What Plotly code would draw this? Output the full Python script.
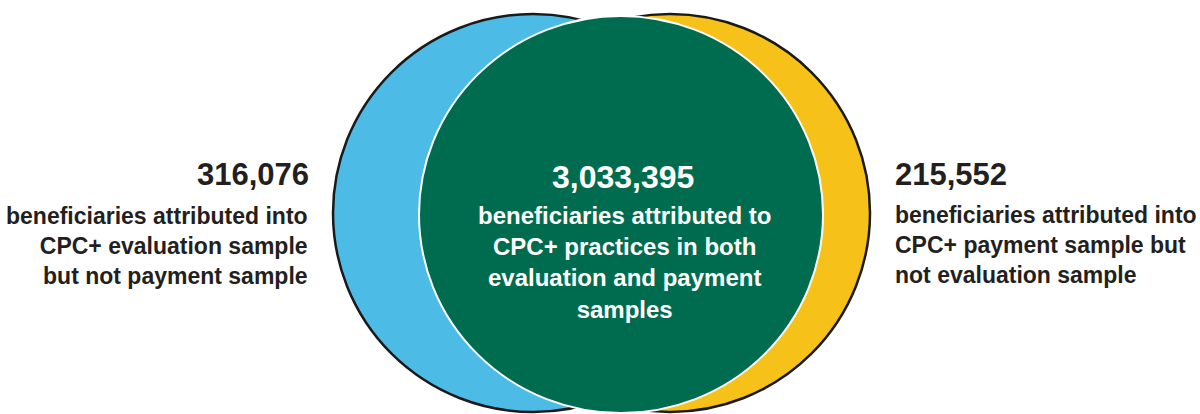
import plotly.graph_objects as go

# ---- data ----
counts = [316076, 3033395, 215552]
regions = ["evaluation only", "both", "payment only"]
descriptions = [
    ["beneficiaries attributed into", "CPC+ evaluation sample", "but not payment sample"],
    ["beneficiaries attributed to", "CPC+ practices in both", "evaluation and payment", "samples"],
    ["beneficiaries attributed into", "CPC+ payment sample but", "not evaluation sample"],
]

# ---- styles ----
FONT = "Liberation Sans, Arial, sans-serif"
DARK = "#231F20"
BLUE = "#4CBCE7"
YELLOW = "#F6C219"
GREEN = "#006C4F"

fig = go.Figure()
fig.add_trace(go.Scatter(x=[0], y=[0], mode="markers", marker=dict(opacity=0), hoverinfo="skip", showlegend=False))

# circles (layout geometry, not data-proportional)
fig.add_shape(type="circle", xref="x", yref="y", x0=333, x1=733, y0=14, y1=412,
              fillcolor=BLUE, line=dict(color="#1a1a1a", width=2.5))
fig.add_shape(type="circle", xref="x", yref="y", x0=470, x1=870, y0=14, y1=412,
              fillcolor=YELLOW, line=dict(color="#1a1a1a", width=2.5))
fig.add_shape(type="circle", xref="x", yref="y", x0=419, x1=823, y0=16, y1=413,
              fillcolor=GREEN, line=dict(color="white", width=2))

def bold(s):
    return "<b>" + s + "</b>"

# left
fig.add_annotation(x=311, y=174, xref="x", yref="y", xanchor="right", yanchor="middle",
                   text=bold(f"{counts[0]:,}"), showarrow=False, align="right",
                   font=dict(family=FONT, size=31, color=DARK))
fig.add_annotation(x=310, y=246, xref="x", yref="y", xanchor="right", yanchor="middle",
                   text="<br>".join(bold(t) for t in descriptions[0]), showarrow=False, align="right",
                   font=dict(family=FONT, size=23, color=DARK))
# center
fig.add_annotation(x=623, y=177, xref="x", yref="y", xanchor="center", yanchor="middle",
                   text=bold(f"{counts[1]:,}"), showarrow=False, align="center",
                   font=dict(family=FONT, size=32, color="white"))
fig.add_annotation(x=624, y=262, xref="x", yref="y", xanchor="center", yanchor="middle",
                   text="<br>".join(bold(t) for t in descriptions[1]), showarrow=False, align="center",
                   font=dict(family=FONT, size=24, color="white"))
# right
fig.add_annotation(x=893, y=174, xref="x", yref="y", xanchor="left", yanchor="middle",
                   text=bold(f"{counts[2]:,}"), showarrow=False, align="left",
                   font=dict(family=FONT, size=31, color=DARK))
fig.add_annotation(x=893, y=245, xref="x", yref="y", xanchor="left", yanchor="middle",
                   text="<br>".join(bold(t) for t in descriptions[2]), showarrow=False, align="left",
                   font=dict(family=FONT, size=23, color=DARK))

fig.update_xaxes(range=[0, 1200], visible=False, fixedrange=True)
fig.update_yaxes(range=[414, 0], visible=False, fixedrange=True)
fig.update_layout(width=1200, height=414, margin=dict(l=0, r=0, t=0, b=0),
                  paper_bgcolor="white", plot_bgcolor="white", showlegend=False)

fig.write_html("out.html", config={"displayModeBar": False},
               post_script="document.body.style.margin='0';document.body.style.overflow='hidden';")
